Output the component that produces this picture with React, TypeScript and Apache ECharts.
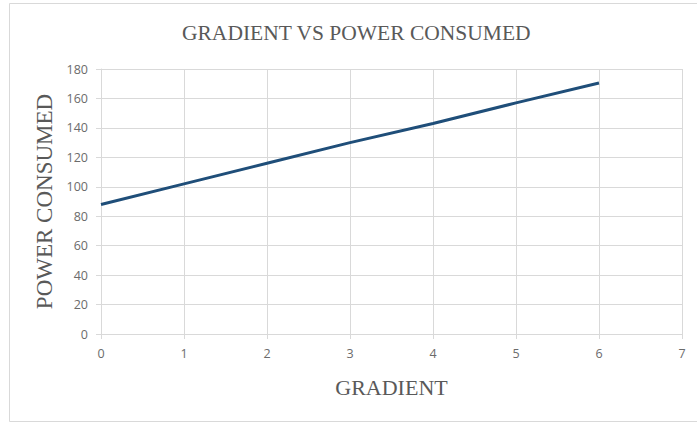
import React, { useEffect, useRef } from "react";
import * as echarts from "echarts";

const gradient = [0, 1, 2, 3, 4, 5, 6];
const powerConsumed = [88, 102, 116, 130, 143, 157, 170.5];
const titleText = "GRADIENT VS POWER CONSUMED";
const xName = "GRADIENT";
const yName = "POWER CONSUMED";

export default function App() {
  const ref = useRef<HTMLDivElement>(null);
  useEffect(() => {
    const chart = echarts.init(ref.current!, undefined, { renderer: "svg" });
    chart.setOption({
      animation: false,
      backgroundColor: "#ffffff",
      title: {
        text: titleText,
        left: 182,
        top: 22,
        padding: 0,
        textStyle: {
          fontFamily: "Liberation Serif",
          fontSize: 21.5,
          fontWeight: "normal",
          color: "#595959",
        },
      },
      graphic: [
        {
          type: "rect",
          shape: { x: 9.5, y: 3.5, width: 700, height: 418 },
          style: { fill: "none", stroke: "#d9d9d9", lineWidth: 1 },
          silent: true,
        },
      ],
      grid: { left: 101, right: 15, top: 69, bottom: 89 },
      xAxis: {
        type: "value",
        min: 0,
        max: 7,
        interval: 1,
        name: xName,
        nameLocation: "middle",
        nameGap: 42,
        nameTextStyle: {
          fontFamily: "Liberation Serif",
          fontSize: 22,
          color: "#595959",
        },
        axisLine: { show: true, onZero: false, lineStyle: { color: "#d9d9d9", width: 1 } },
        axisTick: { show: true, length: 5, inside: false, lineStyle: { color: "#d9d9d9" } },
        axisLabel: {
          margin: 13,
          fontFamily: "Open Sans",
          fontSize: 12.5,
          color: "#6b6b6b",
        },
        splitLine: { show: true, lineStyle: { color: "#d9d9d9", width: 1 } },
      },
      yAxis: {
        type: "value",
        min: 0,
        max: 180,
        interval: 20,
        name: yName,
        nameLocation: "middle",
        nameGap: 45,
        nameTextStyle: {
          fontFamily: "Liberation Serif",
          fontSize: 23,
          color: "#595959",
        },
        axisLine: { show: true, lineStyle: { color: "#d9d9d9", width: 1 } },
        axisTick: { show: true, length: 5, inside: false, lineStyle: { color: "#d9d9d9" } },
        axisLabel: {
          margin: 13,
          fontFamily: "Open Sans",
          fontSize: 12.5,
          color: "#6b6b6b",
        },
        splitLine: { show: true, lineStyle: { color: "#d9d9d9", width: 1 } },
      },
      series: [
        {
          type: "line",
          data: gradient.map((g, i) => [g, powerConsumed[i]]),
          showSymbol: false,
          symbol: "none",
          lineStyle: { color: "#1f4e79", width: 3 },
        },
      ],
    });
    return () => chart.dispose();
  }, []);
  return <div ref={ref} style={{ width: 697, height: 423, position: "absolute", left: 0, top: 0 }} />;
}
